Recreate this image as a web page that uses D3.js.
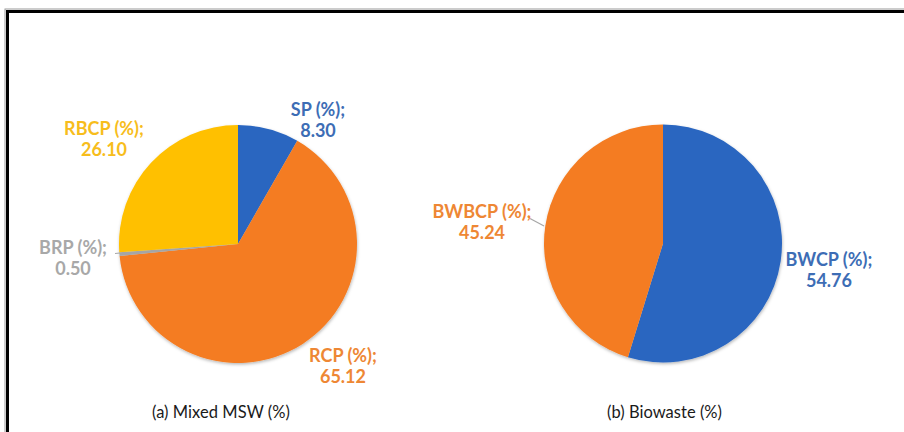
<!DOCTYPE html>
<html>
<head>
<meta charset="utf-8">
<script src="https://cdn.jsdelivr.net/npm/d3@7/dist/d3.min.js"></script>
<style>
  html, body { margin: 0; padding: 0; background: #ffffff; }
  svg { display: block; }
  .lbl { font-family: Lato, "Open Sans", sans-serif; font-weight: 700; font-size: 18px; }
  .ttl { font-family: Lato, "Open Sans", sans-serif; font-weight: 400; font-size: 16.5px; fill: #1a1a1a; }
</style>
</head>
<body>
<svg id="chart" width="904" height="432"></svg>
<script>
// Mixed MSW composition
const mswCategories = ["SP (%)", "RCP (%)", "BRP (%)", "RBCP (%)"];
const mswValues = [8.30, 65.12, 0.50, 26.10];

// Biowaste composition
const bioCategories = ["BWCP (%)", "BWBCP (%)"];
const bioValues = [54.76, 45.24];

// Panel captions
const panelTitles = ["(a)  Mixed MSW (%)", "(b)  Biowaste (%)"];

const W = 904, H = 432;
const svg = d3.select("#chart");

// soft drop shadow under the pies
const defs = svg.append("defs");
const f = defs.append("filter").attr("id", "shadow")
  .attr("x", "-10%").attr("y", "-10%").attr("width", "120%").attr("height", "120%");
f.append("feDropShadow").attr("dx", 0.5).attr("dy", 1.5)
  .attr("stdDeviation", 1.8).attr("flood-color", "#000").attr("flood-opacity", 0.28);

// outer frame
svg.append("rect").attr("x", 5).attr("y", 9).attr("width", W + 20).attr("height", H + 20)
  .attr("fill", "none").attr("stroke", "#9a9a9a").attr("stroke-width", 1);
svg.append("rect").attr("x", 7.5).attr("y", 11.5).attr("width", W + 20).attr("height", H + 20)
  .attr("fill", "none").attr("stroke", "#000").attr("stroke-width", 3);

const R = 119;

function drawPie(cfg) {
  const g = svg.append("g").attr("transform", `translate(${cfg.cx},${cfg.cy})`);
  const color = d3.scaleOrdinal().domain(cfg.categories).range(cfg.fills);
  const textColor = d3.scaleOrdinal().domain(cfg.categories).range(cfg.textFills);
  const pie = d3.pie().sort(null).value(d => d.value);
  const arc = d3.arc().innerRadius(0).outerRadius(R);
  const data = cfg.categories.map((c, i) => ({ name: c, value: cfg.values[i] }));
  const arcs = pie(data);

  g.append("g").attr("filter", "url(#shadow)")
    .selectAll("path").data(arcs).join("path")
    .attr("d", arc)
    .attr("fill", d => color(d.data.name));

  // leader lines
  cfg.leaders.forEach(l => {
    g.append("line")
      .attr("x1", l[0]).attr("y1", l[1]).attr("x2", l[2]).attr("y2", l[3])
      .attr("stroke", "#a6a6a6").attr("stroke-width", 1.2);
  });

  // data labels: "name;" over the value
  arcs.forEach((d, i) => {
    const p = cfg.labelPos[i];
    const t = g.append("text").attr("class", "lbl")
      .attr("text-anchor", "middle")
      .attr("fill", textColor(d.data.name));
    t.append("tspan").attr("x", p[0]).attr("y", p[1]).text(d.data.name + ";");
    t.append("tspan").attr("x", p[0]).attr("y", p[1] + 21).text(d.data.value.toFixed(2));
  });
}

drawPie({
  cx: 238, cy: 244,
  categories: mswCategories, values: mswValues,
  fills: ["#2a66c0", "#f47c21", "#a5a5a5", "#ffc000"],
  textFills: ["#3d6db5", "#ee8734", "#a8a8a8", "#f7bd1c"],
  labelPos: [[80, -128], [105, 118], [-165, 10], [-134, -109]],
  leaders: [[-123, 9.5, -118, 9]]
});

drawPie({
  cx: 663, cy: 243.5,
  categories: bioCategories, values: bioValues,
  fills: ["#2a66c0", "#f47c21"],
  textFills: ["#3d6db5", "#ee8734"],
  labelPos: [[166, 22], [-181, -26]],
  leaders: [[-133, -25, -119, -17.5]]
});

// captions
const titleX = [152, 607], titleLen = [138, 115];
svg.selectAll("text.ttl").data(panelTitles).join("text")
  .attr("class", "ttl")
  .attr("x", (d, i) => titleX[i])
  .attr("y", 418)
  .attr("textLength", (d, i) => titleLen[i])
  .attr("lengthAdjust", "spacing")
  .text(d => d);
</script>
</body>
</html>
